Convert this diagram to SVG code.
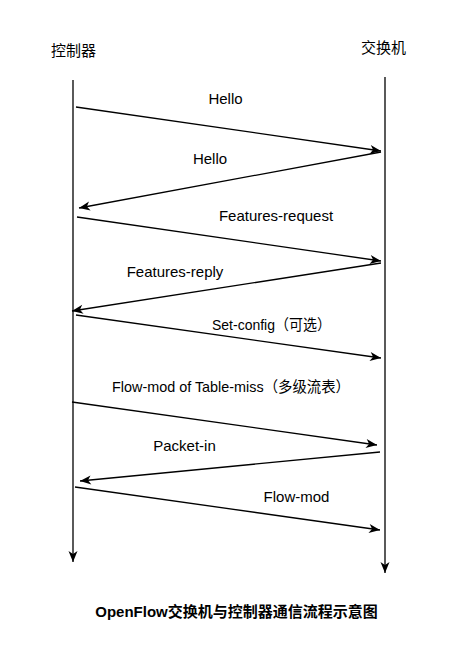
<svg xmlns="http://www.w3.org/2000/svg" width="456" height="655" viewBox="0 0 456 655">
<defs>
<marker id="arr" markerUnits="userSpaceOnUse" markerWidth="12" markerHeight="10" refX="11" refY="4.5" orient="auto" overflow="visible">
<path d="M0,0 L11,4.5 L0,9 L3,4.5 z" fill="#000"/>
</marker>
<style>
.t{font-family:"Liberation Sans","Noto Sans CJK SC",sans-serif;font-size:15px;fill:#000}
.c{text-anchor:middle}
.ln{stroke:#000;stroke-width:1.3;fill:none;marker-end:url(#arr)}
.title{font-weight:bold}
</style>
</defs>
<rect width="456" height="655" fill="#fff"/>
<g id="controller">
<text class="t c" x="73.5" y="56">控制器</text>
</g>
<g id="switch">
<text class="t c" x="383.5" y="53">交换机</text>
</g>
<g id="connectors">
<line class="ln" x1="73" y1="80" x2="73" y2="562"/>
<line class="ln" x1="385" y1="77" x2="385" y2="573"/>
<line class="ln" x1="76" y1="107" x2="381" y2="151"/>
<line class="ln" x1="381" y1="152" x2="79" y2="208"/>
<line class="ln" x1="77" y1="217" x2="381" y2="261"/>
<line class="ln" x1="381" y1="263" x2="72" y2="311"/>
<line class="ln" x1="76" y1="315" x2="381" y2="358"/>
<line class="ln" x1="72" y1="402" x2="377" y2="445"/>
<line class="ln" x1="380" y1="452" x2="80" y2="481"/>
<line class="ln" x1="75" y1="487" x2="380" y2="530"/>
</g>
<g id="labels">
<text class="t c" x="225.5" y="104">Hello</text>
<text class="t c" x="210" y="164">Hello</text>
<text class="t c" x="276" y="221">Features-request</text>
<text class="t c" x="175" y="277">Features-reply</text>
<text class="t c" x="271.5" y="330" textLength="119" lengthAdjust="spacingAndGlyphs">Set-config（可选）</text>
<text class="t c" x="231" y="392" textLength="238" lengthAdjust="spacingAndGlyphs">Flow-mod of Table-miss（多级流表）</text>
<text class="t c" x="184.5" y="451">Packet-in</text>
<text class="t c" x="296.5" y="502">Flow-mod</text>
</g>
<g id="title">
<text class="t c title" x="236.5" y="617">OpenFlow交换机与控制器通信流程示意图</text>
</g>
</svg>
